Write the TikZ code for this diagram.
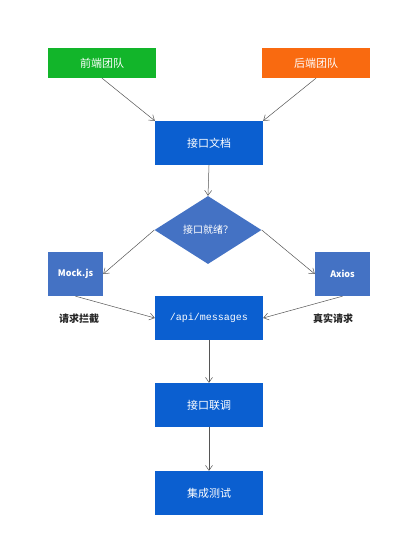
\documentclass[tikz,border=0pt]{standalone}
\usepackage{fontspec}
\newfontfamily\cjk{Noto Sans CJK SC}
\setmonofont{Liberation Mono}
\usetikzlibrary{shapes.geometric,arrows.meta}
\definecolor{teamgreen}{HTML}{12B52A}
\definecolor{teamorange}{HTML}{F96A10}
\definecolor{stepblue}{HTML}{0B5FD0}
\definecolor{softblue}{HTML}{4472C4}
\definecolor{linkgray}{HTML}{555555}
\tikzset{
  box/.style={draw=none, rectangle, minimum width=108pt, minimum height=44pt,
    inner sep=0pt, text=white, font=\cjk\fontsize{11}{13}\selectfont},
  team/.style={box, minimum height=30pt},
  stepbox/.style={box, fill=stepblue},
  sidebox/.style={box, fill=softblue, minimum width=55pt,
    font=\cjk\bfseries\fontsize{9}{11}\selectfont},
  decision/.style={diamond, fill=softblue, draw=none, inner sep=0pt,
    minimum width=107pt, minimum height=68pt, aspect=1.57, text=white,
    font=\cjk\fontsize{10}{12}\selectfont},
  note/.style={text=black!85, font=\cjk\bfseries\fontsize{10}{12}\selectfont},
  link/.style={draw=linkgray, line width=0.5pt, -{Straight Barb[length=5pt,width=7pt]}}
}
\begin{document}
\begin{tikzpicture}[x=1pt, y=-1pt]
  \useasboundingbox[fill=white] (0,0) rectangle (413,553);
  % teams
  \node[team, fill=teamgreen]  (fe)  at (102,63)  {前端团队};
  \node[team, fill=teamorange] (be)  at (316,63)  {后端团队};
  % main flow
  \node[stepbox] (doc)  at (209,143) {接口文档};
  \node[decision] (ready) at (208,230) {接口就绪？};
  \node[sidebox] (mock)  at (75.5,274) {Mock.js};
  \node[sidebox] (axios) at (342.5,274) {Axios};
  \node[stepbox] (api)  at (209,318) {\ttfamily\fontsize{10}{12}\selectfont /api/messages};
  \node[stepbox] (joint) at (209,405) {接口联调};
  \node[stepbox] (test)  at (209,493) {集成测试};
  % side notes
  \node[note] (n1) at (79,319) {请求拦截};
  \node[note] (n2) at (333,319) {真实请求};
  % connectors
  \draw[link] (fe.south) -- (doc.north west);
  \draw[link] (be.south) -- (doc.north east);
  \draw[link] (doc.south) -- (ready.north);
  \draw[link] (ready.west) -- (mock.east);
  \draw[link] (ready.east) -- (axios.west);
  \draw[link] (mock.south) -- (api.west);
  \draw[link] (axios.south) -- (api.east);
  \draw[link] (api.south) -- (joint.north);
  \draw[link] (joint.south) -- (test.north);
\end{tikzpicture}
\end{document}
